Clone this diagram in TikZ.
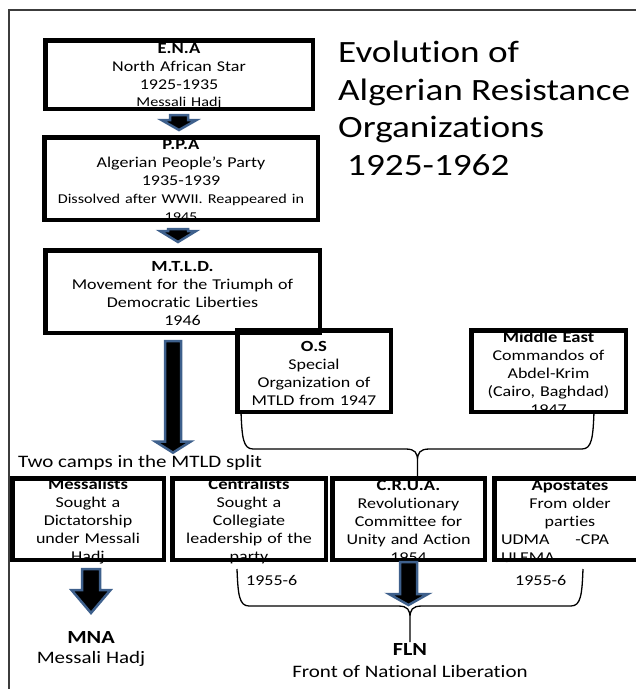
\documentclass[tikz,border=0pt]{standalone}
\usepackage{fontspec}
\setmainfont{Carlito}[FakeStretch=1.2, Ligatures=NoCommon]
\usetikzlibrary{calc}

\definecolor{arrowblue}{RGB}{62,96,140}
\definecolor{framegray}{RGB}{60,60,60}

\newcommand\hd[1]{{\fontsize{15.5}{18}\selectfont\bfseries #1}}
\newcommand\sm[1]{{\fontsize{13.5}{16}\selectfont #1}}

% block arrow: from, to, shaft half width, head half width, head length
\newcommand\fatarrow[5]{%
  \draw[blockarrow] let \p1=(#1), \p2=(#2) in
    (\x1-#3pt,\y1) -- (\x1+#3pt,\y1) -- (\x1+#3pt,\y2+#5pt)
    -- (\x1+#4pt,\y2+#5pt) -- (\x1,\y2) -- (\x1-#4pt,\y2+#5pt)
    -- (\x1-#3pt,\y2+#5pt) -- cycle;}

% curly brace: left end, right end, depth, tip length
\newcommand\splitbrace[4]{%
  \draw[bracket] let \p1=(#1), \p2=(#2), \p3=($(#1)!.5!(#2)$) in
    (\p1) .. controls (\x1+1pt,\y1-#3pt+12pt) and (\x1+2pt,\y1-#3pt) .. (\x1+12pt,\y1-#3pt)
    -- (\x3-12pt,\y1-#3pt) .. controls (\x3-2pt,\y1-#3pt) and (\x3,\y1-#3pt-4pt) .. (\x3,\y1-#3pt-12pt)
    -- (\x3,\y1-#3pt-#4pt)
    (\x3,\y1-#3pt-12pt) .. controls (\x3,\y1-#3pt-4pt) and (\x3+2pt,\y1-#3pt) .. (\x3+12pt,\y1-#3pt)
    -- (\x2-12pt,\y2-#3pt) .. controls (\x2-2pt,\y2-#3pt) and (\x2-1pt,\y2-#3pt+12pt) .. (\p2);}

\begin{document}
\begin{tikzpicture}[x=1pt,y=-1pt,
  orgbox/.style 2 args={draw, line width=4.5pt, inner sep=0pt,
    minimum width=#1, minimum height=#2},
  txt/.style={align=center, inner sep=0pt, text width=#1, yshift=-2.5pt,
    font=\fontsize{15}{18}\selectfont},
  blockarrow/.style={fill=black, draw=arrowblue, line width=2.5pt},
  bracket/.style={draw=black, line width=1.3pt},
  frame/.style={draw=framegray, line width=2.5pt}]

  \useasboundingbox (0,0) rectangle (636,689);
  \clip (0,0) rectangle (636,689);
  \draw[frame] (9,10) rectangle (700,760);

  % title
  \node[anchor=north west, align=left, inner sep=0pt,
    font=\fontsize{31}{37.5}\selectfont] (title) at (338,41)
    {Evolution of\\Algerian Resistance\\Organizations\\\hspace*{9pt}1925-1962};

  % main line
  \node[orgbox={267.5pt}{68.5pt}, label={[txt=262pt, yshift=1pt]center:{\hd{E.N.A}\\North African Star\\1925-1935\\[-1.5pt]\sm{Messali Hadj}}}]
    (ena) at (179,74.5) {};
  \node[orgbox={273.5pt}{82.5pt}, label={[txt=268pt]center:{\hd{P.P.A}\\Algerian People’s Party\\1935-1939\\\sm{Dissolved after WWII. Reappeared in}\\\sm{1945}}}]
    (ppa) at (181,178.5) {};
  \node[orgbox={274.5pt}{82.5pt}, label={[txt=268pt]center:{\hd{M.T.L.D.}\\Movement for the Triumph of\\Democratic Liberties\\1946}}]
    (mtld) at (182.5,291.5) {};

  % side groups
  \node[orgbox={153.5pt}{81.5pt}, label={[txt=148pt]center:{\hd{O.S}\\Special\\Organization of\\MTLD from 1947}}]
    (os) at (314,371) {};
  \node[orgbox={154.5pt}{81.5pt}, label={[txt=148pt]center:{\hd{Middle East}\\Commandos of\\Abdel-Krim\\(Cairo, Baghdad)\\1947}}]
    (mideast) at (548.5,371) {};

  \node[anchor=base west, inner sep=0pt, font=\fontsize{17.5}{20}\selectfont]
    (camps) at (18,467) {Two camps in the MTLD split};

  % bottom row
  \node[orgbox={151.5pt}{81.5pt}, label={[txt=146pt]center:{\hd{Messalists}\\Sought a\\Dictatorship\\under Messali\\Hadj}}]
    (messal) at (88,519) {};
  \node[orgbox={153.5pt}{81.5pt}, label={[txt=148pt]center:{\hd{Centralists}\\Sought a\\Collegiate\\leadership of the\\party}}]
    (central) at (249,519) {};
  \node[orgbox={152.5pt}{81.5pt}, label={[txt=147pt]center:{\hd{C.R.U.A.}\\Revolutionary\\Committee for\\Unity and Action\\1954}}]
    (crua) at (408.5,519) {};
  \node[orgbox={151.5pt}{81.5pt}, label={[txt=146pt]center:{\hd{Apostates}\\From older\\parties\\\makebox[146pt][l]{\hspace{4pt}UDMA\hspace{26pt}-CPA}\\\makebox[146pt][l]{\hspace{4pt}ULEMA}}}]
    (apost) at (570,519) {};

  \node[anchor=base west, inner sep=0pt, font=\fontsize{15}{18}\selectfont] (yrleft) at (246,585) {1955-6};
  \node[anchor=base west, inner sep=0pt, font=\fontsize{15}{18}\selectfont] (yrright) at (515,585) {1955-6};

  % results
  \node[anchor=north, align=center, inner sep=0pt, font=\fontsize{17.5}{20}\selectfont] (mna) at (91,631)
    {{\fontsize{18.5}{20}\selectfont\bfseries MNA}\\Messali Hadj};
  \node[anchor=north, align=center, inner sep=0pt, font=\fontsize{17.5}{22}\selectfont] (fln) at (410,643)
    {{\fontsize{18.5}{22}\selectfont\bfseries FLN}\\Front of National Liberation};

  % braces
  \splitbrace{$(os.south west)+(6,-2)$}{$(mideast.south east)+(-34,-2)$}{37}{30}
  \splitbrace{$(central.south)+(-12,7)$}{$(apost.south)+(13,7)$}{37}{36}

  % arrows
  \fatarrow{$(ena.south)+(0,4)$}{$(ppa.north)+(0,-5)$}{9}{17.5}{10}
  \fatarrow{$(ppa.south)+(-3,7)$}{$(mtld.north)+(0,-6)$}{10}{18}{11}
  \fatarrow{$(mtld.south)+(-9.5,6)$}{$(camps.north)+(0,-2)$}{8}{17.5}{11}
  \fatarrow{$(messal.south)+(3,7)$}{$(mna.north)+(0,-18)$}{9}{19.5}{23}
  \fatarrow{$(crua.south)$}{$(fln.north)+(0,-38)$}{8.5}{19.5}{11}
\end{tikzpicture}
\end{document}
